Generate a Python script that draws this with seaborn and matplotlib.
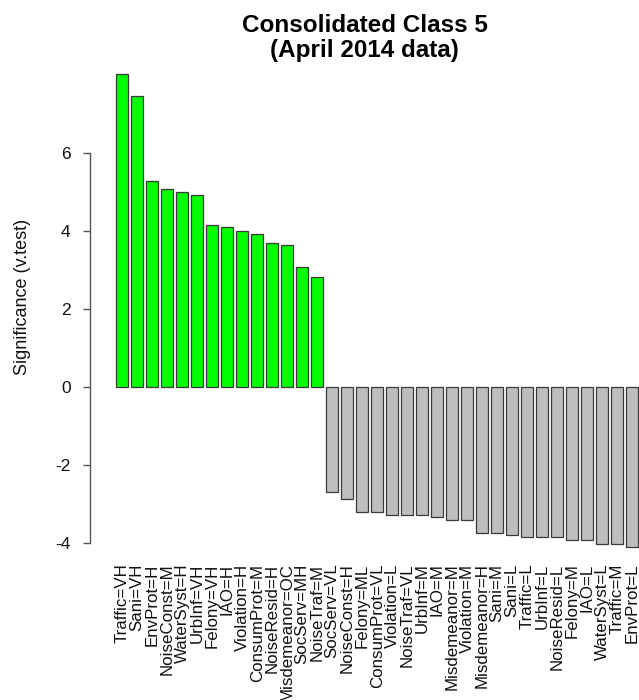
import matplotlib
matplotlib.use("Agg")
import matplotlib.pyplot as plt
import seaborn as sns
import pandas as pd

pos_labels = ["Traffic=VH", "Sani=VH", "EnvProt=H", "NoiseConst=M", "WaterSyst=H",
              "UrbInf=VH", "Felony=VH", "IAO=H", "Violation=H", "ConsumProt=M",
              "NoiseResid=H", "Misdemeanor=OC", "SocServ=MH", "NoiseTraf=M"]
pos_values = [8.03, 7.46, 5.29, 5.08, 5.00, 4.92, 4.15, 4.09, 4.00, 3.92,
              3.68, 3.65, 3.07, 2.81]

neg_labels = ["SocServ=VL", "NoiseConst=H", "Felony=ML", "ConsumProt=VL", "Violation=L",
              "NoiseTraf=VL", "UrbInf=M", "IAO=M", "Misdemeanor=M", "Violation=M",
              "Misdemeanor=H", "Sani=M", "Sani=L", "Traffic=L", "UrbInf=L",
              "NoiseResid=L", "Felony=M", "IAO=L", "WaterSyst=L", "Traffic=M", "EnvProt=L"]
neg_values = [-2.68, -2.88, -3.21, -3.21, -3.28, -3.28, -3.28, -3.33, -3.40, -3.40,
              -3.74, -3.74, -3.79, -3.85, -3.85, -3.85, -3.92, -3.92, -4.03, -4.03, -4.09]

y_ticks = [-4, -2, 0, 2, 4, 6]

df = pd.DataFrame({
    "label": pos_labels + neg_labels,
    "value": pos_values + neg_values,
    "sign": ["pos"] * len(pos_labels) + ["neg"] * len(neg_labels),
})

sns.set_style("white")
plt.rcParams["font.family"] = ["Liberation Sans", "DejaVu Sans"]

W, H = 639, 700
fig = plt.figure(figsize=(W / 100, H / 100), dpi=100)
ax_left, ax_right, ax_top, ax_bot = 90, 639, 55, 558
ax = fig.add_axes([ax_left / W, 1 - ax_bot / H, (ax_right - ax_left) / W, (ax_bot - ax_top) / H])

sns.barplot(data=df, x="label", y="value", hue="sign",
            palette={"pos": "#00FF00", "neg": "#BEBEBE"},
            order=df["label"].tolist(), dodge=False, width=0.833, saturation=1,
            edgecolor="#3a3a3a", linewidth=0.9, legend=False, ax=ax)

px_per_unit_y = 39.0
ax.set_ylim(-(ax_bot - 387) / px_per_unit_y, (387 - ax_top) / px_per_unit_y)
ax.set_xlim(-2.15, 34.45)

for s in ["top", "right", "bottom"]:
    ax.spines[s].set_visible(False)
ax.spines["left"].set_bounds(-4, 6)
ax.spines["left"].set_color("#555555")
ax.spines["left"].set_linewidth(1.0)

ax.set_yticks(y_ticks)
ax.set_yticklabels([str(t) for t in y_ticks])
ax.tick_params(axis="y", left=True, length=5, width=1.0, color="#555555",
               pad=9, labelsize=12.5, labelcolor="#111111")
ax.tick_params(axis="x", bottom=False, length=0, pad=4, labelsize=12.2, labelcolor="#111111")
plt.setp(ax.get_xticklabels(), rotation=90, ha="center", va="top")

ax.set_xlabel("")
ax.set_ylabel("Significance (v.test)", fontsize=13, color="#111111")
ax.yaxis.set_label_coords(-0.108, 0.52)

fig.text(364.5 / W, 1 - 14 / H, "Consolidated Class 5\n(April 2014 data)",
         ha="center", va="top", fontsize=17.5, fontweight="bold", linespacing=1.12,
         color="black")

fig.savefig("out.png", dpi=100)
